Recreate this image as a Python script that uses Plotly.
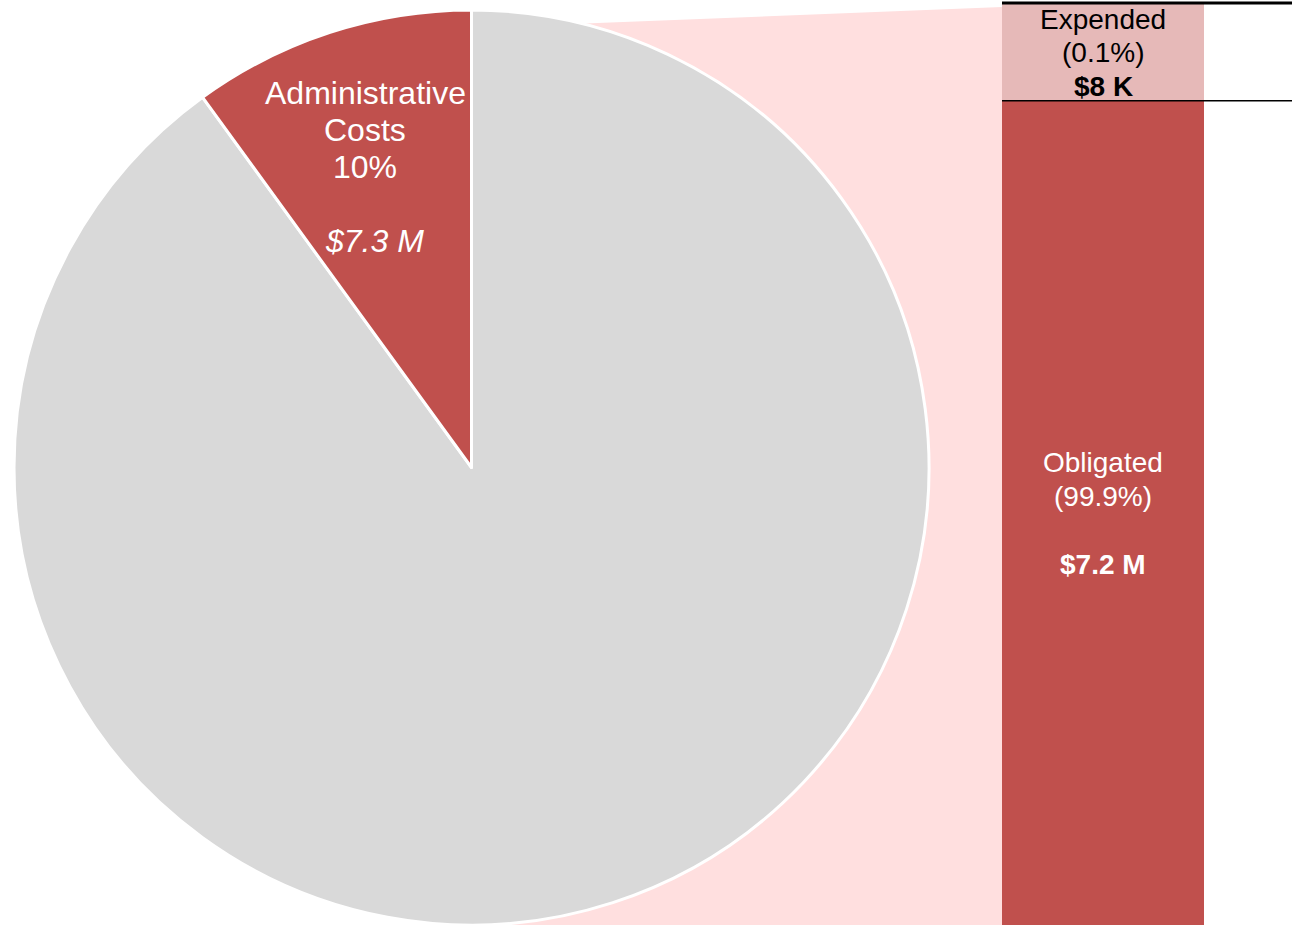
import plotly.graph_objects as go

W, H = 1292, 925
FONT = "Liberation Sans, Arial, sans-serif"

# pie: the rest of the program vs administrative costs (drawn clockwise from 12 o'clock)
pie_labels = ["Other", "Administrative Costs"]
pie_values = [65.7, 7.3]          # $ M
pie_colors = ["#D9D9D9", "#C0504D"]

# breakdown bar of the administrative slice (bottom to top)
bar_labels = ["Obligated", "Expended"]
bar_pcts = [99.9, 0.1]
bar_amounts = ["$7.2 M", "$8 K"]
bar_shown = [89.4, 10.6]          # share of bar height as drawn in the picture
bar_colors = ["#C0504D", "#E6B9B8"]
bar_text_colors = ["white", "black"]

fig = go.Figure()

# pie sits in the left part of the page
fig.add_trace(go.Pie(
    labels=pie_labels, values=pie_values, sort=False,
    direction="clockwise", rotation=0,
    marker=dict(colors=pie_colors, line=dict(color="white", width=3)),
    textinfo="none", hoverinfo="label+value+percent", showlegend=False,
    domain=dict(x=[13 / W, 930 / W], y=[0, 915 / H]),
))

bar_x = 1103
bar_w = 202
for lab, shown, col in zip(bar_labels, bar_shown, bar_colors):
    fig.add_trace(go.Bar(
        x=[bar_x], y=[shown], width=bar_w, name=lab,
        marker=dict(color=col, line=dict(width=0)),
        hoverinfo="name", showlegend=False,
    ))

tot = sum(bar_shown)
yrange_top = tot * H / 922

# pink connector from pie to bar
x_left = 471.5
x_right = bar_x - bar_w / 2
fig.add_shape(type="path", xref="x", yref="paper", layer="below",
              path=f"M {x_left},{(H - 28) / H} L {x_right},{(H - 7) / H} "
                   f"L {x_right},0 L {x_left},0 Z",
              fillcolor="#FFDFDF", line=dict(width=0))

# black rules at the top of the bar and at the segment boundary
fig.add_shape(type="line", xref="x", yref="y", x0=x_right, x1=W, y0=tot, y1=tot,
              line=dict(color="black", width=3))
fig.add_shape(type="line", xref="x", yref="y", x0=x_right, x1=W,
              y0=bar_shown[0], y1=bar_shown[0], line=dict(color="black", width=1.3))


def add_lines(lines, x, y, yref, shifts, size, color, xshifts=None):
    for i, (t, s) in enumerate(zip(lines, shifts)):
        fig.add_annotation(
            x=x, y=y, xref="x", yref=yref, yshift=s,
            xanchor="center", yanchor="middle",
            xshift=(xshifts[i] if xshifts else 0), showarrow=False, text=t,
            font=dict(family=FONT, size=size, color=color),
        )


# bar segment labels, centred on each segment
base = 0
for lab, pct, amt, shown, tcol in zip(bar_labels, bar_pcts, bar_amounts,
                                      bar_shown, bar_text_colors):
    mid = base + shown / 2
    if lab == "Obligated":
        add_lines([lab, f"({pct}%)", f"<b>{amt}</b>"], bar_x, mid, "y",
                  [50, 16, -52], 28, tcol)
    else:
        add_lines([lab, f"({pct}%)", f"<b>{amt}</b>"], bar_x, mid, "y",
                  [32, -1, -35], 28, tcol)
    base += shown

admin_val = pie_values[pie_labels.index("Administrative Costs")]
pct_admin = round(100 * admin_val / sum(pie_values))
add_lines(["Administrative", "Costs", f"{pct_admin}%", f"<i>${admin_val} M</i>"],
          365, (H - 167) / H, "paper", [74, 37, 0, -74], 32, "white",
          xshifts=[0, 0, 0, 9])

fig.update_layout(
    width=W, height=H, margin=dict(l=0, r=0, t=0, b=0),
    paper_bgcolor="white", plot_bgcolor="rgba(0,0,0,0)",
    barmode="stack", bargap=0,
    xaxis=dict(range=[0, W], visible=False, fixedrange=True),
    yaxis=dict(range=[0, yrange_top], domain=[0, 1], visible=False, fixedrange=True),
    font=dict(family=FONT),
)

fig.write_html("out.html", config={"displayModeBar": False},
               post_script="document.body.style.margin='0';")
